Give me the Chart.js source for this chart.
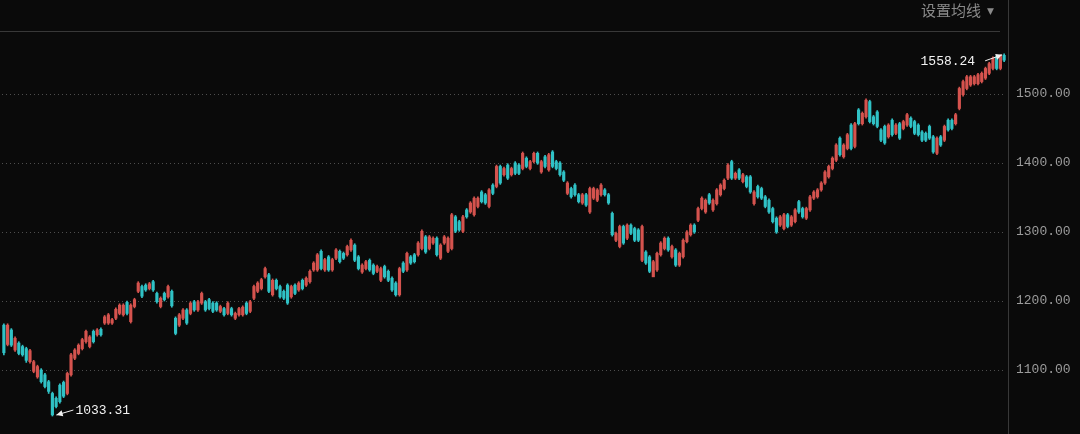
<!DOCTYPE html>
<html>
<head>
<meta charset="utf-8">
<script src="https://cdn.jsdelivr.net/npm/chart.js@4.4.1/dist/chart.umd.min.js"></script>
<style>
  html, body { margin: 0; padding: 0; background: #0a0a0a; }
  #wrap { position: relative; width: 1080px; height: 434px; overflow: hidden; }
  #c { position: absolute; left: 0; top: 0; }
  #hdr { position: absolute; left: 921px; top: 0px; font-family: "Noto Sans CJK SC", sans-serif; font-size: 15px; line-height: 20px; color: #8a8a8a; white-space: nowrap; }
  #hdr span { font-family: "DejaVu Sans", sans-serif; font-size: 9px; margin-left: 6px; position: relative; top: -2px; }
</style>
</head>
<body>
<div id="wrap">
  <canvas id="c" width="1080" height="434"></canvas>
  <div id="hdr">设置均线<span>▼</span></div>
</div>
<script>
// ---- data ----
const opens = [
1165,1137,1158,1129,1139,1134,1131,1112,1098,1090,1100,1093,1083,1066,1059,1078,1082,1066,1093,1117,
1124,1131,1141,1134,1156,1151,1159,1168,1168,1168,1175,1182,1180,1198,1170,1192,1214,1221,1223,1218,
1228,1211,1192,1211,1206,1214,1175,1165,1175,1187,1182,1199,1187,1197,1199,1202,1197,1197,1185,1189,
1182,1189,1175,1180,1180,1197,1185,1204,1214,1218,1235,1238,1209,1230,1221,1214,1223,1206,1223,1216,
1230,1223,1228,1245,1245,1272,1245,1264,1245,1262,1272,1269,1267,1274,1281,1264,1242,1247,1259,1252,
1243,1230,1250,1243,1233,1226,1209,1255,1245,1264,1267,1267,1276,1293,1276,1284,1291,1262,1284,1272,
1276,1322,1315,1301,1332,1329,1325,1337,1358,1354,1337,1368,1366,1395,1383,1397,1383,1400,1397,1392,
1407,1392,1402,1414,1387,1409,1390,1416,1402,1400,1387,1356,1363,1368,1354,1342,1354,1329,1349,1346,
1354,1361,1354,1327,1288,1279,1308,1291,1310,1305,1303,1259,1271,1264,1235,1245,1267,1276,1291,1264,
1274,1252,1264,1286,1296,1310,1317,1334,1329,1354,1332,1341,1354,1363,1378,1402,1378,1390,1373,1380,
1380,1341,1366,1363,1351,1346,1334,1320,1310,1305,1325,1310,1315,1344,1334,1320,1332,1349,1351,1361,
1371,1380,1392,1404,1436,1409,1421,1455,1424,1477,1457,1467,1489,1467,1474,1448,1453,1438,1462,1443,
1457,1450,1455,1465,1460,1455,1445,1443,1453,1438,1414,1438,1433,1462,1462,1457,1479,1499,1508,1513,
1515,1515,1518,1523,1530,1537,1554,1537,1556
];
const closes = [
1125,1165,1136,1146,1124,1122,1114,1128,1112,1105,1083,1076,1069,1035,1047,1054,1062,1095,1122,1129,
1136,1144,1156,1148,1141,1158,1151,1177,1180,1173,1188,1194,1194,1182,1194,1202,1226,1207,1216,1225,
1216,1199,1204,1202,1221,1193,1153,1180,1187,1168,1197,1187,1199,1211,1187,1189,1185,1187,1192,1180,
1197,1180,1182,1189,1191,1182,1199,1221,1226,1231,1247,1214,1230,1218,1206,1204,1197,1221,1211,1226,
1218,1233,1243,1255,1267,1247,1260,1245,1260,1274,1257,1262,1279,1288,1259,1247,1252,1257,1245,1240,
1250,1247,1235,1230,1216,1209,1247,1243,1269,1255,1257,1284,1301,1271,1293,1291,1267,1281,1293,1291,
1325,1301,1303,1322,1322,1342,1349,1349,1344,1342,1361,1356,1395,1371,1392,1378,1392,1385,1385,1414,
1395,1402,1414,1400,1402,1395,1412,1395,1392,1383,1375,1371,1351,1354,1344,1354,1339,1363,1363,1361,
1368,1354,1342,1296,1298,1308,1284,1310,1298,1288,1288,1308,1255,1243,1257,1269,1284,1291,1274,1279,
1252,1269,1288,1300,1310,1300,1334,1349,1346,1342,1346,1361,1368,1375,1397,1378,1385,1378,1383,1366,
1358,1358,1351,1349,1337,1329,1315,1300,1322,1325,1308,1322,1332,1329,1322,1334,1351,1358,1361,1371,
1387,1395,1407,1426,1412,1426,1441,1421,1457,1457,1472,1491,1460,1457,1453,1433,1429,1455,1441,1455,
1436,1460,1470,1453,1443,1441,1433,1433,1436,1416,1436,1426,1453,1448,1450,1470,1508,1518,1525,1525,
1525,1528,1530,1537,1544,1552,1537,1556,1549
];
const highs = [
1167,1167,1160,1148,1141,1136,1133,1130,1114,1107,1102,1095,1085,1068,1061,1080,1084,1097,1124,1131,
1138,1146,1158,1150,1158,1160,1161,1179,1182,1175,1190,1196,1196,1200,1196,1204,1228,1223,1225,1227,
1230,1213,1206,1213,1223,1216,1177,1182,1189,1189,1199,1201,1201,1213,1201,1204,1199,1199,1194,1191,
1199,1191,1184,1191,1193,1199,1201,1223,1228,1233,1249,1240,1232,1232,1223,1216,1225,1223,1225,1228,
1232,1235,1245,1257,1269,1274,1262,1266,1262,1276,1274,1271,1281,1290,1283,1266,1254,1259,1261,1254,
1252,1249,1252,1245,1235,1228,1249,1257,1271,1266,1269,1286,1303,1295,1295,1293,1293,1283,1295,1293,
1327,1324,1317,1324,1334,1344,1351,1351,1360,1356,1363,1370,1397,1397,1394,1399,1394,1402,1399,1416,
1409,1404,1416,1416,1404,1411,1414,1418,1404,1402,1389,1373,1365,1370,1356,1356,1356,1365,1365,1363,
1370,1363,1356,1329,1300,1310,1310,1312,1312,1307,1305,1310,1273,1266,1259,1271,1286,1293,1293,1281,
1276,1271,1290,1302,1312,1312,1336,1351,1348,1356,1348,1363,1370,1377,1399,1404,1387,1392,1385,1382,
1382,1360,1368,1365,1353,1348,1336,1322,1324,1327,1327,1324,1334,1346,1336,1336,1353,1360,1363,1373,
1389,1397,1409,1428,1438,1428,1443,1457,1459,1479,1474,1493,1491,1469,1476,1450,1455,1457,1464,1457,
1459,1462,1472,1467,1462,1457,1447,1445,1455,1440,1438,1440,1455,1464,1464,1472,1510,1520,1527,1527,
1527,1530,1532,1539,1546,1554,1556,1557,1558.24
];
const lows = [
1122,1135,1134,1127,1122,1120,1111,1110,1096,1088,1081,1074,1066,1033.31,1045,1052,1060,1064,1091,1115,
1122,1129,1139,1132,1139,1149,1149,1166,1166,1166,1173,1180,1178,1180,1168,1190,1212,1205,1214,1216,
1214,1197,1190,1200,1204,1191,1151,1163,1173,1166,1180,1185,1185,1195,1185,1187,1183,1185,1183,1178,
1180,1178,1173,1178,1178,1180,1183,1202,1212,1216,1233,1212,1207,1216,1204,1202,1195,1204,1209,1214,
1216,1221,1226,1243,1243,1245,1243,1243,1243,1260,1255,1260,1265,1272,1257,1245,1240,1245,1243,1238,
1241,1228,1233,1228,1214,1207,1207,1241,1243,1253,1255,1265,1274,1269,1274,1282,1265,1260,1282,1270,
1274,1299,1301,1299,1320,1327,1323,1335,1342,1340,1335,1354,1364,1369,1381,1376,1381,1383,1383,1390,
1393,1390,1400,1398,1385,1393,1388,1393,1390,1381,1373,1354,1349,1352,1342,1340,1337,1327,1347,1344,
1352,1352,1340,1294,1286,1277,1282,1289,1296,1286,1286,1257,1253,1241,1237,1243,1265,1274,1272,1262,
1250,1250,1262,1284,1294,1298,1315,1332,1327,1340,1330,1339,1352,1361,1376,1376,1376,1376,1371,1364,
1356,1339,1349,1347,1335,1327,1313,1298,1308,1303,1306,1308,1313,1327,1320,1318,1330,1347,1349,1359,
1369,1378,1390,1402,1410,1407,1419,1419,1422,1455,1455,1465,1458,1455,1451,1431,1427,1436,1439,1441,
1434,1448,1453,1451,1441,1439,1431,1431,1434,1414,1412,1424,1431,1446,1448,1455,1477,1497,1506,1511,
1513,1513,1516,1521,1528,1535,1535,1535,1547
];
const days = opens.map((_, i) => i + 1);
const yTicks = [1100, 1200, 1300, 1400, 1500];

// ---- styles ----
const UP = '#d5534e';
const DOWN = '#30c2c6';
const candleColors = opens.map((o, i) => closes[i] >= o ? UP : DOWN);

const frame = {
  id: 'frame',
  beforeDraw(chart) {
    const c = chart.ctx;
    c.save();
    c.fillStyle = '#0a0a0a';
    c.fillRect(0, 0, chart.width, chart.height);
    c.restore();
  },
  afterDraw(chart) {
    const c = chart.ctx;
    const xs = chart.scales.x, ys = chart.scales.y;
    c.save();
    c.strokeStyle = '#383838';
    c.lineWidth = 1;
    c.beginPath();
    c.moveTo(0, 31.5); c.lineTo(1000, 31.5);
    c.moveTo(1008.5, 0); c.lineTo(1008.5, chart.height);
    c.stroke();

    c.fillStyle = '#f2f2f2';
    c.strokeStyle = '#f2f2f2';
    c.font = '13px "Liberation Mono", "DejaVu Sans Mono", monospace';
    c.textBaseline = 'middle';

    const arrow = (x1, y1, x2, y2) => {
      const a = Math.atan2(y2 - y1, x2 - x1);
      c.beginPath(); c.moveTo(x1, y1); c.lineTo(x2, y2); c.stroke();
      c.beginPath();
      c.moveTo(x2, y2);
      c.lineTo(x2 - 7 * Math.cos(a - 0.45), y2 - 7 * Math.sin(a - 0.45));
      c.lineTo(x2 - 7 * Math.cos(a + 0.45), y2 - 7 * Math.sin(a + 0.45));
      c.closePath(); c.fill();
    };

    let hi = 0; highs.forEach((v, i) => { if (v > highs[hi]) hi = i; });
    const hx = xs.getPixelForValue(hi), hy = ys.getPixelForValue(highs[hi]);
    arrow(hx - 19, hy + 7, hx - 2, hy + 1);
    c.textAlign = 'right';
    c.fillText(highs[hi].toFixed(2), hx - 29, hy + 8);

    let lo = 0; lows.forEach((v, i) => { if (v < lows[lo]) lo = i; });
    const lx = xs.getPixelForValue(lo), ly = ys.getPixelForValue(lows[lo]);
    arrow(lx + 21, ly - 6, lx + 4, ly - 1);
    c.textAlign = 'left';
    c.fillText(lows[lo].toFixed(2), lx + 23, ly - 5);
    c.restore();
  }
};

new Chart(document.getElementById('c'), {
  type: 'bar',
  data: {
    labels: days,
    datasets: [
      {
        data: lows.map((l, i) => [l, highs[i]]),
        backgroundColor: candleColors,
        barThickness: 1,
        grouped: false,
        order: 2
      },
      {
        data: opens.map((o, i) => [Math.min(o, closes[i]), Math.max(o, closes[i])]),
        backgroundColor: candleColors,
        barThickness: 2.5,
        minBarLength: 1,
        grouped: false,
        order: 1
      }
    ]
  },
  options: {
    responsive: false,
    animation: false,
    events: [],
    layout: { padding: { top: 32, left: 2, right: 0, bottom: 0 } },
    plugins: { legend: { display: false }, tooltip: { enabled: false } },
    scales: {
      x: { display: false, offset: true, grid: { display: false } },
      y: {
        position: 'right',
        min: 1007.25,
        max: 1589.86,
        afterFit(s) { s.width = 74; s.paddingTop = 0; s.paddingBottom = 0; },
        afterBuildTicks(a) { a.ticks = yTicks.map(v => ({ value: v })); },
        grid: { color: '#4e4e4e', drawTicks: false, lineWidth: 1 },
        border: { display: false, dash: [1, 3] },
        ticks: {
          padding: 10,
          color: '#9c9c9c',
          font: { family: '"Liberation Mono", "DejaVu Sans Mono", monospace', size: 13 },
          callback: v => Number(v).toFixed(2)
        }
      }
    }
  },
  plugins: [frame]
});
</script>
</body>
</html>
